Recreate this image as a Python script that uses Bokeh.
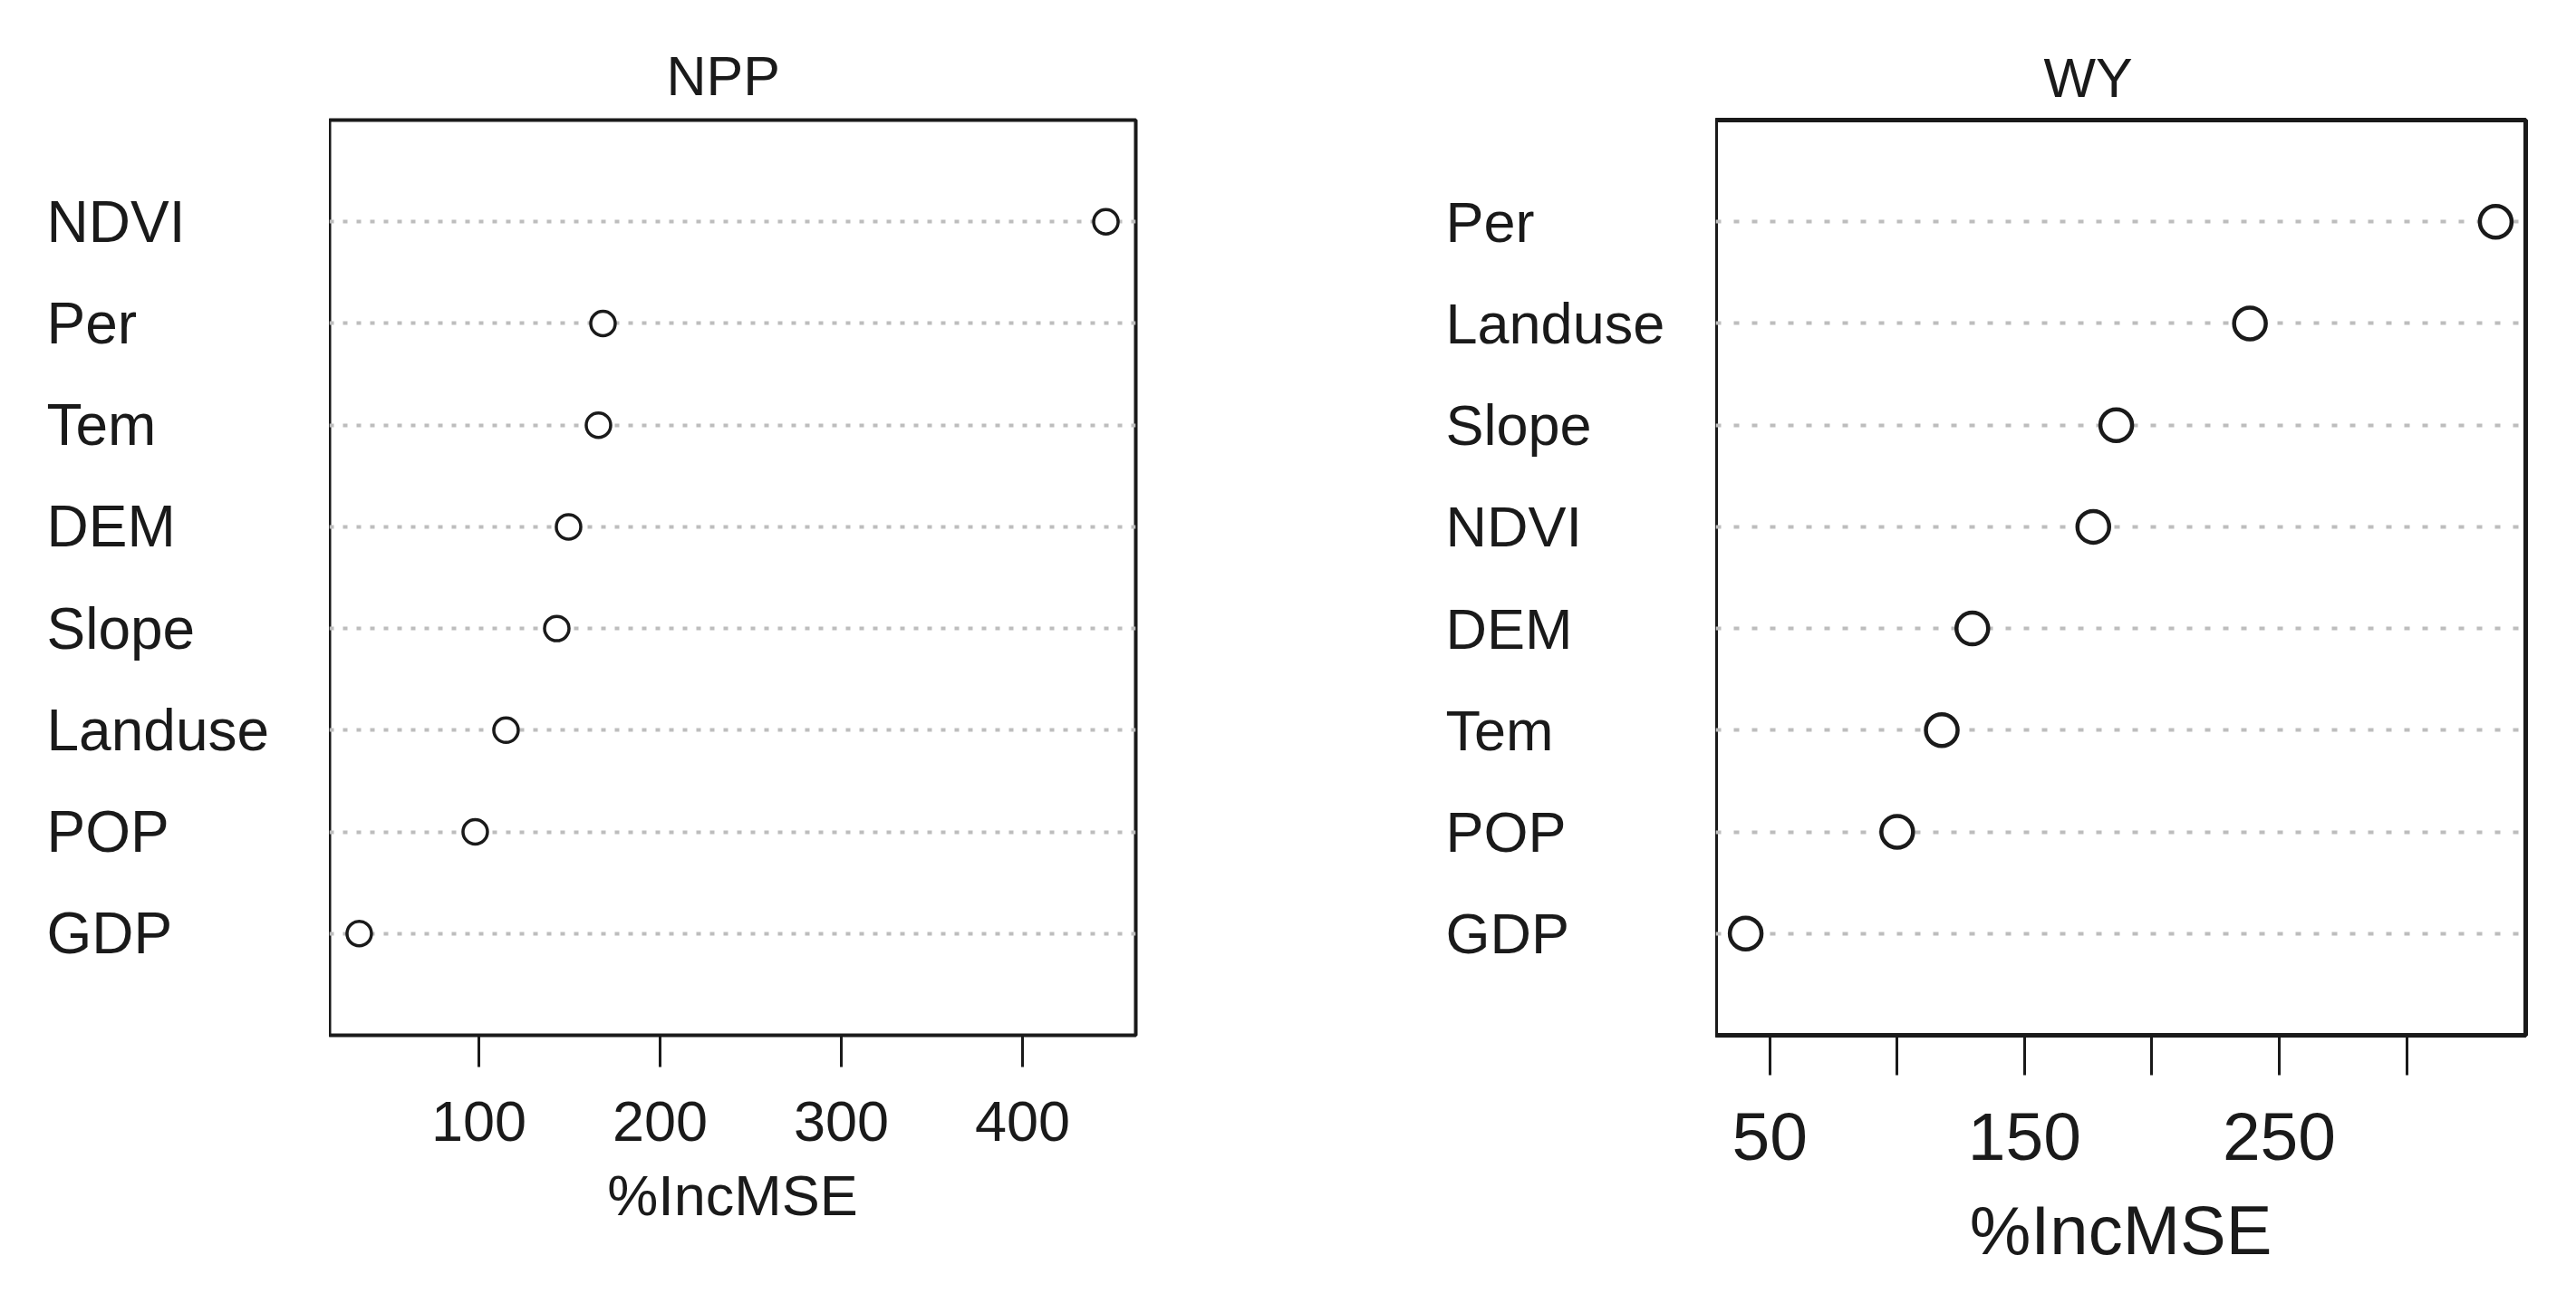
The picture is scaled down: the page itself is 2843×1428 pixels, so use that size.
from bokeh.plotting import figure
from bokeh.models import Range1d, FixedTicker, ColumnDataSource
from bokeh.core.properties import value
from bokeh.layouts import row
from bokeh.embed import file_html
from bokeh.resources import INLINE

# ---- data ----
npp_vars = ["NDVI", "Per", "Tem", "DEM", "Slope", "Landuse", "POP", "GDP"]
npp_vals = [446, 168.5, 166, 149.5, 143, 115, 98, 34]
npp_ticks = [100, 200, 300, 400]
npp_tick_labels = ["100", "200", "300", "400"]

wy_vars = ["Per", "Landuse", "Slope", "NDVI", "DEM", "Tem", "POP", "GDP"]
wy_vals = [335, 238.5, 186, 177, 129.5, 117.5, 100, 40.5]
wy_ticks = [50, 100, 150, 200, 250, 300]
wy_tick_labels = ["50", "", "150", "", "250", ""]

x_title = "%IncMSE"
FONT = "Liberation Sans"
INK = "#1a1a1a"
H = 1412


def label_column(names, yr, width, left, bt, bb, fs):
    n = len(names)
    ypos = list(range(n, 0, -1))
    q = figure(width=width, height=H, x_range=Range1d(0, 1), y_range=yr,
               output_backend="svg", toolbar_location=None,
               min_border_left=left, min_border_right=0,
               min_border_top=bt, min_border_bottom=bb)
    q.axis.visible = False
    q.grid.visible = False
    q.outline_line_color = None
    q.background_fill_color = "white"
    q.border_fill_color = "white"
    src = ColumnDataSource(dict(x=[0] * n, y=ypos, name=names))
    q.text("x", "y", text="name", source=src, text_align="left",
           text_baseline="middle", text_font=value(FONT),
           text_font_size=f"{fs}px", text_color=INK)
    return q


def panel(title, names, vals, ticks, tick_labels, width, br, bt, bb,
          tick_fs, xlab_fs, title_fs, tick_len, lab_standoff,
          axlab_standoff, msize, mlw, box_w, dash, title_off, title_standoff):
    n = len(names)
    ypos = list(range(n, 0, -1))
    lo, hi = min(vals), max(vals)
    pad = 0.04 * (hi - lo)
    xr = Range1d(lo - pad, hi + pad)
    yr = Range1d(0, n + 1)
    p = figure(width=width, height=H, x_range=xr, y_range=yr,
               output_backend="svg", toolbar_location=None,
               min_border_left=0, min_border_right=br,
               min_border_top=bt, min_border_bottom=bb)
    p.background_fill_color = "white"
    p.border_fill_color = "white"
    p.outline_line_color = INK
    p.outline_line_width = box_w
    p.outline_line_alpha = 1.0

    p.title.text = title
    p.title.align = "left"
    p.title.offset = title_off
    p.title.standoff = title_standoff
    p.title.text_font = FONT
    p.title.text_font_size = f"{title_fs}px"
    p.title.text_font_style = "normal"
    p.title.text_color = INK

    p.yaxis.visible = False
    p.xgrid.visible = False
    p.ygrid.ticker = FixedTicker(ticks=ypos)
    p.ygrid.grid_line_color = "#bdbdbd"
    p.ygrid.grid_line_width = 4
    p.ygrid.grid_line_dash = dash

    ax = p.xaxis[0]
    ax.ticker = FixedTicker(ticks=ticks)
    ax.major_label_overrides = {t: l for t, l in zip(ticks, tick_labels)}
    ax.axis_line_color = None
    ax.major_tick_line_color = INK
    ax.major_tick_line_width = 3
    ax.major_tick_in = 0
    ax.major_tick_out = tick_len
    ax.minor_tick_line_color = None
    ax.major_label_standoff = lab_standoff
    ax.major_label_text_font = FONT
    ax.major_label_text_font_size = f"{tick_fs}px"
    ax.major_label_text_color = INK
    ax.axis_label = x_title
    ax.axis_label_standoff = axlab_standoff
    ax.axis_label_text_font = FONT
    ax.axis_label_text_font_size = f"{xlab_fs}px"
    ax.axis_label_text_font_style = "normal"
    ax.axis_label_text_color = INK

    src = ColumnDataSource(dict(x=vals, y=ypos))
    p.scatter("x", "y", source=src, marker="circle", size=msize,
              fill_color="white", line_color=INK, line_width=mlw)
    return p, yr


p1, yr1 = panel("NPP", npp_vars, npp_vals, npp_ticks, npp_tick_labels,
                width=1145, br=255, bt=132, bb=269,
                tick_fs=63, xlab_fs=63, title_fs=61,
                tick_len=35, lab_standoff=38, axlab_standoff=22,
                msize=27, mlw=3.5, box_w=4, dash="5 10", title_off=372,
                title_standoff=29)
l1 = label_column(npp_vars, yr1, width=363, left=51, bt=132, bb=269, fs=64)

p2, yr2 = panel("WY", wy_vars, wy_vals, wy_ticks, wy_tick_labels,
                width=942, br=48, bt=125, bb=270,
                tick_fs=75, xlab_fs=76, title_fs=61,
                tick_len=44, lab_standoff=42, axlab_standoff=32,
                msize=35, mlw=4.5, box_w=5, dash="6 14", title_off=362,
                title_standoff=25)
l2 = label_column(wy_vars, yr2, width=385, left=87, bt=125, bb=270, fs=63)

layout = row(l1, p1, l2, p2)
open("out.html", "w").write(file_html(layout, INLINE))
